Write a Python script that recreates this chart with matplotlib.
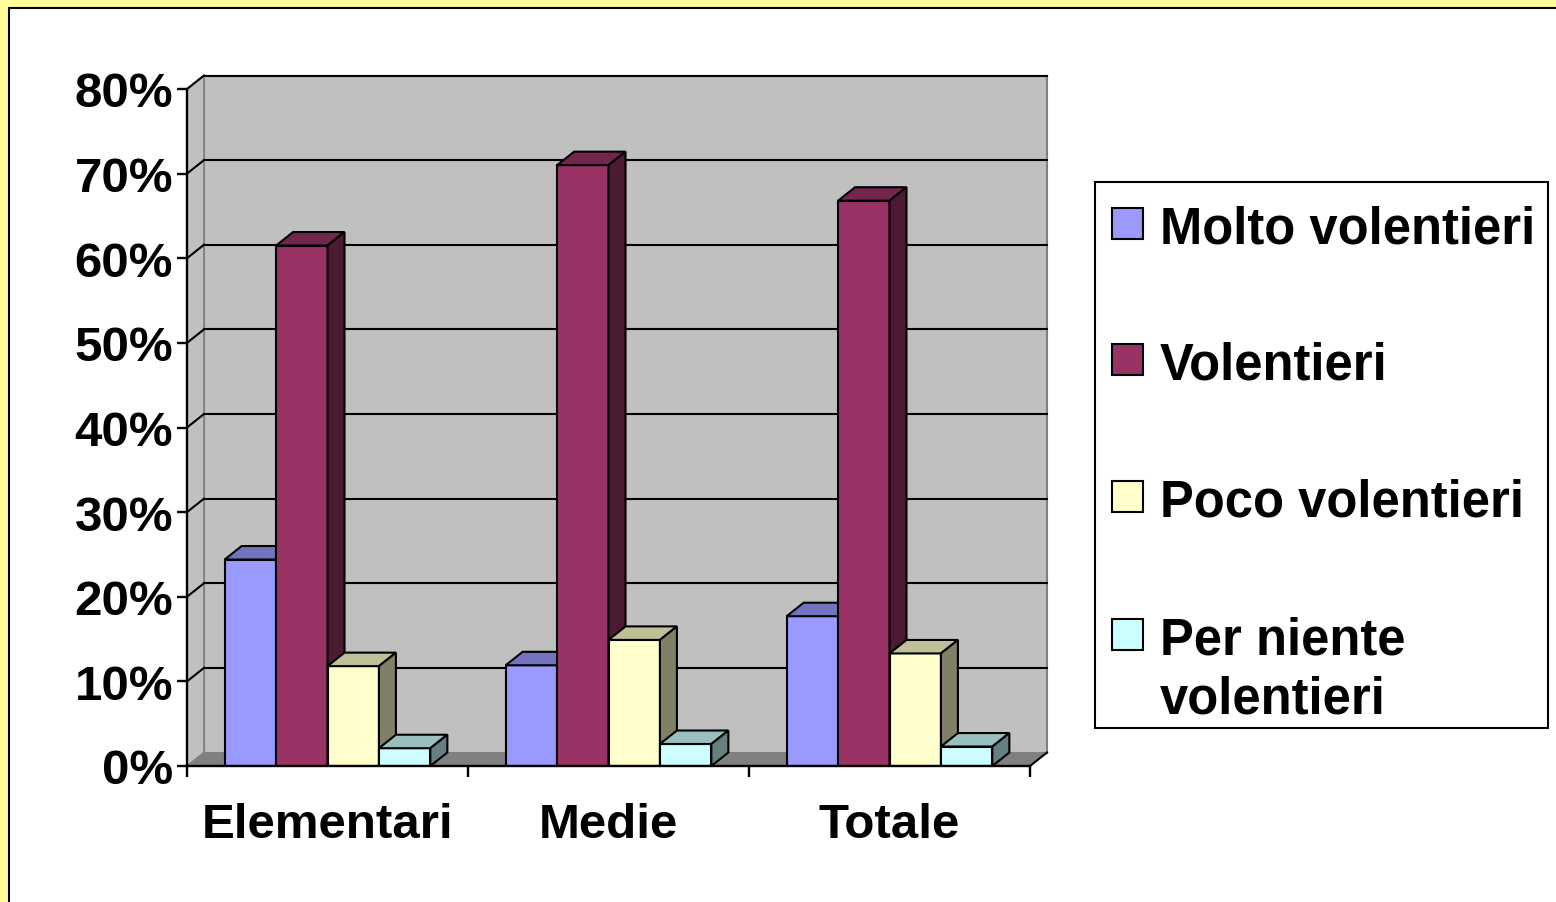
import numpy as np
import matplotlib
matplotlib.use('Agg')
import matplotlib.pyplot as plt
from matplotlib.patches import Rectangle, Polygon
from matplotlib.ticker import FuncFormatter

plt.rcParams['font.family'] = ['Liberation Sans', 'DejaVu Sans']
plt.rcParams['font.weight'] = 'bold'

categories = ['Elementari', 'Medie', 'Totale']
series = ['Molto volentieri', 'Volentieri', 'Poco volentieri', 'Per niente\nvolentieri']
values = {
    'Molto volentieri': [0.244, 0.119, 0.177],
    'Volentieri': [0.615, 0.710, 0.668],
    'Poco volentieri': [0.118, 0.149, 0.133],
    'Per niente\nvolentieri': [0.021, 0.026, 0.023],
}
colors = ['#9999FF', '#993366', '#FFFFCC', '#CCFFFF']
yticks = [0, 0.1, 0.2, 0.3, 0.4, 0.5, 0.6, 0.7, 0.8]

W, H = 1556, 903
fig = plt.figure(figsize=(W / 100, H / 100), dpi=100)
fig.patch.set_facecolor('#FFFF99')

# white chart area with black frame (yellow strip top/left)
fig.patches.append(Rectangle((9 / W, -0.05), 1.1, (H - 9) / H + 0.05, transform=fig.transFigure,
                             facecolor='white', edgecolor='black', lw=1.5, zorder=-1))


def shade(c, f):
    rgb = np.array(matplotlib.colors.to_rgb(c)) * f
    return tuple(rgb)


ax = fig.add_axes([187 / W, (H - 767) / H, (1030 - 187) / W, (767 - 90) / H])
ax.set_xlim(0, 3)
ax.set_ylim(0, 0.8)
ax.patch.set_visible(False)

# depth of the pseudo-3d walls/bars (data units)
dx = 17 * 3 / 843
dy = 13.5 * 0.8 / 677

# back wall, left wall, floor
ax.add_patch(Rectangle((dx, dy), 3, 0.8, facecolor='#C0C0C0', edgecolor='#808080', lw=1.5,
                       clip_on=False, zorder=0))
ax.add_patch(Polygon([(0, 0), (dx, dy), (dx, 0.8 + dy), (0, 0.8)], closed=True,
                     facecolor='#C0C0C0', edgecolor='#808080', lw=1.2, clip_on=False, zorder=0.5))
for v in yticks[1:]:
    ax.plot([dx, 3 + dx], [v + dy, v + dy], color='black', lw=1.5, clip_on=False, zorder=1)
    ax.plot([0, dx], [v, v + dy], color='black', lw=1.5, clip_on=False, zorder=1)
ax.add_patch(Polygon([(0, 0), (3, 0), (3 + dx, dy), (dx, dy)], closed=True,
                     facecolor='#808080', edgecolor='none', clip_on=False, zorder=1))
ax.plot([3, 3 + dx], [0, dy], color='black', lw=1.5, clip_on=False, zorder=1)

# bars
w = 0.183
x = np.arange(len(categories)) + 0.5
for j, s in enumerate(series):
    for i, v in enumerate(values[s]):
        x0 = x[i] + (j - 2) * w
        z = 2 + j * 0.1
        ax.bar(x0, v, width=w, align='edge', color=colors[j], edgecolor='black', lw=1.5,
               zorder=z)
        ax.add_patch(Polygon([(x0, v), (x0 + w, v), (x0 + w + dx, v + dy), (x0 + dx, v + dy)],
                             closed=True, facecolor=shade(colors[j], 0.75), edgecolor='black',
                             lw=1.5, zorder=z, clip_on=False))
        ax.add_patch(Polygon([(x0 + w, 0), (x0 + w + dx, dy), (x0 + w + dx, v + dy), (x0 + w, v)],
                             closed=True, facecolor=shade(colors[j], 0.5), edgecolor='black',
                             lw=1.5, zorder=z, clip_on=False))

# axes
for sp in ['top', 'right']:
    ax.spines[sp].set_visible(False)
for sp in ['left', 'bottom']:
    ax.spines[sp].set_linewidth(1.7)
    ax.spines[sp].set_zorder(5)
ax.set_yticks(yticks)
ax.yaxis.set_major_formatter(FuncFormatter(lambda v, p: '%d%%' % round(v * 100)))
ax.tick_params(axis='y', length=7, width=1.7, pad=3, labelsize=35.5)
ax.set_xticks([0, 1, 2, 3])
ax.set_xticklabels([])
ax.set_xticks(x, minor=True)
ax.set_xticklabels(categories, minor=True)
ax.tick_params(axis='x', which='major', length=8, width=1.7)
ax.tick_params(axis='x', which='minor', length=0, pad=26, labelsize=35.5)

# legend
lx0, ly0, lx1, ly1 = 1095, 183, 1548, 729
fig.patches.append(Rectangle((lx0 / W, 1 - ly1 / H), (lx1 - lx0) / W, (ly1 - ly0) / H,
                             transform=fig.transFigure, facecolor='white', edgecolor='black',
                             lw=1.5, zorder=3))
marker_tops = [209, 345, 482, 620]
for j, s in enumerate(series):
    top = marker_tops[j]
    fig.patches.append(Rectangle((1112 / W, 1 - (top + 31) / H), 31 / W, 31 / H,
                                 transform=fig.transFigure, facecolor=colors[j],
                                 edgecolor='black', lw=1.5, zorder=4))
    fig.text(1160 / W, 1 - (top - 3) / H, s, fontsize=36.5, fontweight='bold', va='top',
             ha='left', linespacing=1.25, zorder=5)

fig.savefig('out.png', dpi=100, facecolor=fig.get_facecolor())
